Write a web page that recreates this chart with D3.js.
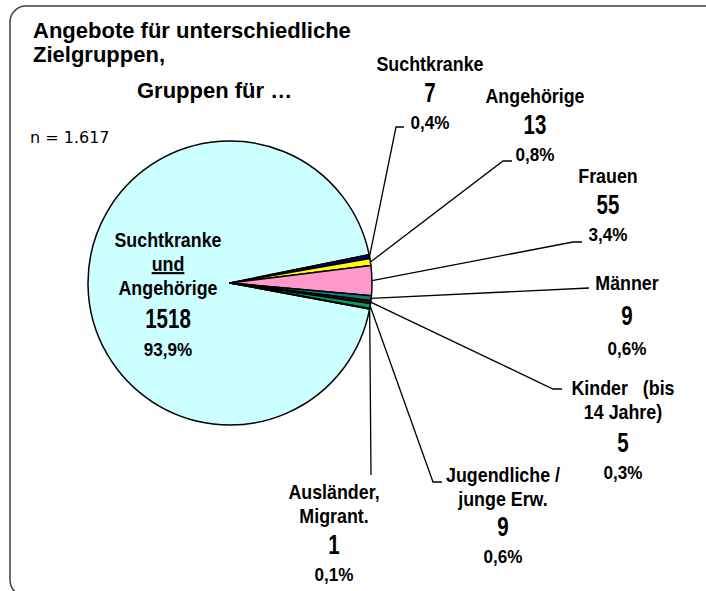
<!DOCTYPE html>
<html>
<head>
<meta charset="utf-8">
<script src="https://cdn.jsdelivr.net/npm/d3@7"></script>
<style>
body { margin: 0; background: #fff; }
text { font-family: "Liberation Sans", Arial, sans-serif; }
</style>
</head>
<body>
<svg width="706" height="591"></svg>
<script>
var categories = ["Suchtkranke und Angehörige", "Suchtkranke", "Angehörige", "Frauen", "Männer",
                  "Kinder (bis 14 Jahre)", "Jugendliche / junge Erw.", "Ausländer, Migrant."];
var values = [1518, 7, 13, 55, 9, 5, 9, 1];
var labelLines = [["Suchtkranke", "und", "Angehörige"], ["Suchtkranke"], ["Angehörige"], ["Frauen"], ["Männer"],
                  ["Kinder   (bis", "14 Jahre)"], ["Jugendliche /", "junge Erw."], ["Ausländer,", "Migrant."]];
var colors = ["#ccffff", "#000080", "#ffff00", "#ff99cc", "#008080", "#800000", "#00a060", "#3366ff"];
var titleLines = ["Angebote für unterschiedliche", "Zielgruppen,", "Gruppen für …"];
var note = "n = 1.617";

// where each label block sits (centre x, first baseline) and its leader line bend
var labelPos = [
  {x: 168, y: 247, num: 33, pct: 28},
  {x: 430, y: 71, line: [[396, 127], [404, 127]]},
  {x: 535, y: 103, line: [[503, 161], [512, 161]]},
  {x: 608, y: 183, line: [[573, 242], [582, 242]]},
  {x: 627, y: 290, num: 35, pct: 30, line: [[589, 288]]},
  {x: 623, y: 395, num: 33, line: [[553, 389], [562, 389]]},
  {x: 503, y: 482, num: 30, line: [[433, 482], [442, 482]]},
  {x: 334, y: 499, line: [[371, 475]]}
];

var svg = d3.select("svg"),
    cx = 230, cy = 283, r = 142;

var total = d3.sum(values);
var pct = d3.formatLocale({decimal: ",", thousands: ".", grouping: [3], currency: ["", "€"]}).format(".1%");

// rounded frame, runs off the right and bottom edge
svg.append("rect")
    .attr("x", 10).attr("y", 6)
    .attr("width", 712).attr("height", 590)
    .attr("rx", 16)
    .attr("fill", "none")
    .attr("stroke", "#404040")
    .attr("stroke-width", 1.5);

svg.selectAll(".title")
  .data(titleLines)
  .enter().append("text")
    .attr("class", "title")
    .attr("x", function(d, i) { return i == 2 ? 137 : 33; })
    .attr("y", function(d, i) { return [38, 62, 98][i]; })
    .attr("font-size", 22)
    .attr("font-weight", "bold")
    .text(function(d) { return d; });

svg.append("text")
    .attr("x", 30).attr("y", 143)
    .style("font-family", "'DejaVu Sans', sans-serif")
    .attr("font-size", 16)
    .text(note);

// small slices begin just above 3 o'clock
var start = (78.5 - 360 * values[0] / total) * Math.PI / 180;
var pie = d3.pie().sort(null).startAngle(start).endAngle(start + 2 * Math.PI);
var arcs = pie(values);

var arc = d3.arc().innerRadius(0).outerRadius(r);
var rim = d3.arc().innerRadius(r).outerRadius(r);

var g = svg.append("g").attr("transform", "translate(" + cx + "," + cy + ")");

g.selectAll("path")
  .data(arcs)
  .enter().append("path")
    .attr("d", arc)
    .attr("fill", function(d, i) { return colors[i]; })
    .attr("stroke", "#000")
    .attr("stroke-width", 1.5)
    .attr("stroke-linejoin", "round");

// leader lines
svg.selectAll(".leader")
  .data(arcs.slice(1))
  .enter().append("polyline")
    .attr("class", "leader")
    .attr("fill", "none")
    .attr("stroke", "#000")
    .attr("stroke-width", 1.3)
    .attr("points", function(d, i) {
      var c = rim.centroid(d);
      var pts = [[cx + c[0], cy + c[1]]].concat(labelPos[i + 1].line);
      return pts.map(function(p) { return p.join(","); }).join(" ");
    });

// label blocks
arcs.forEach(function(d, i) {
  var p = labelPos[i],
      lh = 24, num = p.num || 31, pg = p.pct || 27,
      lines = labelLines[i];
  var block = svg.append("g");
  function put(str, y, size, sx, deco) {
    block.append("text")
      .attr("transform", "translate(" + p.x + "," + y + ") scale(" + sx + ",1)")
      .attr("text-anchor", "middle")
      .attr("font-size", size)
      .attr("font-weight", "bold")
      .style("white-space", "pre")
      .style("text-decoration", deco || null)
      .text(str);
  }
  lines.forEach(function(l, j) {
    put(l, p.y + j * lh, 21, 0.85, (i == 0 && j == 1) ? "underline" : null);
  });
  var y = p.y + (lines.length - 1) * lh + num;
  put(String(d.data), y, 27, 0.76);
  put(pct(d.data / total), y + pg, 19, 0.9);
});
</script>
</body>
</html>
